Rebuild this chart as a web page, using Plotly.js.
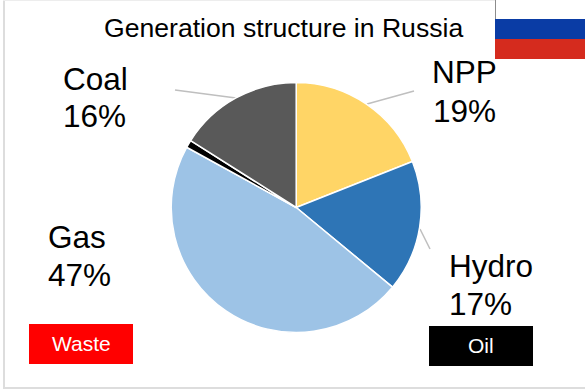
<!DOCTYPE html>
<html>
<head>
<meta charset="utf-8">
<script src="https://cdn.plot.ly/plotly-3.0.1.min.js"></script>
<style>
  html, body { margin: 0; padding: 0; background: #fff; overflow: hidden; }
  #chart { width: 585px; height: 390px; }
</style>
</head>
<body>
<div id="chart"></div>
<script>
// Generation structure in Russia, share of output by source (%)
const sources = ['NPP', 'Hydro', 'Gas', 'Oil', 'Coal'];
const shares = [19, 17, 47, 1, 16];
const sliceColors = ['#FFD566', '#2E75B6', '#9DC3E6', '#000000', '#595959'];

const W = 585, H = 390;
const px = v => v / W;
const py = v => 1 - v / H;

const font = 'Liberation Sans, Arial, sans-serif';

// Slice captions, one text line per entry: text, centre x, centre y
const captionText = ['Coal', '16%', 'NPP', '19%', 'Gas', '47%', 'Hydro', '17%'];
const captionX = [95, 94, 464.5, 464.5, 77, 79, 490.5, 480.5];
const captionY = [79, 116, 72, 111, 237, 275, 266, 304];

const annotations = captionText.map((t, i) => ({
  text: t, xref: 'paper', yref: 'paper', x: px(captionX[i]), y: py(captionY[i]),
  xanchor: 'center', yanchor: 'middle', showarrow: false,
  font: { family: font, size: 31.5, color: '#000' }
}));

annotations.push({
  text: 'Generation structure in Russia', xref: 'paper', yref: 'paper',
  x: px(283.5), y: py(28.5), xanchor: 'center', yanchor: 'middle', showarrow: false,
  font: { family: font, size: 26.6, color: '#000' }
});

// Boxed keys for the two smallest sources
const keyText = ['Waste', 'Oil'];
const keyFill = ['#FF0000', '#000000'];
const keyLeft = [29, 429];
const keyTop = [324, 326];
const keyW = 104, keyH = 40;

keyText.forEach((t, i) => annotations.push({
  text: t, xref: 'paper', yref: 'paper',
  x: px(keyLeft[i] + keyW / 2), y: py(keyTop[i] + keyH / 2 - 0.5),
  xanchor: 'center', yanchor: 'middle', showarrow: false,
  font: { family: font, size: 21, color: '#fff' }
}));

const rect = (x0, y0, x1, y1, fill) => ({
  type: 'rect', xref: 'paper', yref: 'paper', layer: 'below',
  x0: px(x0), x1: px(x1), y0: py(y0), y1: py(y1),
  fillcolor: fill, line: { width: 0 }
});
const line = (x0, y0, x1, y1, color, width) => ({
  type: 'line', xref: 'paper', yref: 'paper', layer: 'below',
  x0: px(x0), x1: px(x1), y0: py(y0), y1: py(y1),
  line: { color: color, width: width }
});

const shapes = [
  // panel edge
  line(4, 0, 4, 388, '#DDDDDD', 2),
  line(3, 388, 585, 388, '#DDDDDD', 2),
  line(3, 0.5, 495, 0.5, '#EDEDED', 1),
  // Russian flag
  rect(495, 0, 585, 19, '#FFFFFF'),
  rect(495, 19, 585, 39, '#0A3CA5'),
  rect(495, 39, 585, 59, '#D52B1E'),
  line(495.5, 0, 495.5, 19, '#8C8C8C', 1),
  // leader lines
  line(175, 90, 236, 98, '#BFBFBF', 1.5),
  line(367, 104, 414, 91, '#BFBFBF', 1.5),
  line(420, 229, 430, 249, '#BFBFBF', 1.5),
  // key boxes
  ...keyText.map((t, i) => rect(keyLeft[i], keyTop[i], keyLeft[i] + keyW, keyTop[i] + keyH, keyFill[i]))
];

const trace = {
  type: 'pie',
  labels: sources,
  values: shares,
  sort: false,
  direction: 'clockwise',
  rotation: 0,
  textinfo: 'none',
  hoverinfo: 'label+percent',
  marker: { colors: sliceColors, line: { color: '#FFFFFF', width: 1.5 } },
  domain: { x: [px(171.2), px(421.2)], y: [py(332.5), py(82.5)] }
};

Plotly.newPlot('chart', [trace], {
  width: W, height: H,
  margin: { l: 0, r: 0, t: 0, b: 0 },
  paper_bgcolor: '#FFFFFF',
  showlegend: false,
  annotations: annotations,
  shapes: shapes
}, { displayModeBar: false, responsive: false });
</script>
</body>
</html>
